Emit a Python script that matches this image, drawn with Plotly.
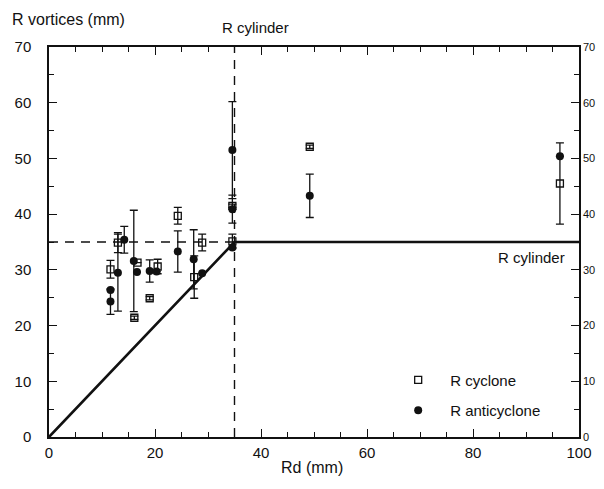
import plotly.graph_objects as go

# ---- data ----
R_CYL = 35.0
X_MAX = 100.0
Y_MAX = 70.0

cyclone_x = [11.6, 13.0, 16.1, 16.7, 19.0, 20.5, 24.3, 27.4, 28.9, 34.6, 34.6, 49.2, 96.4]
cyclone_y = [30.1, 34.9, 21.4, 31.3, 24.9, 30.6, 39.7, 28.7, 34.9, 35.1, 41.5, 52.1, 45.5]
cyclone_err = [1.6, 1.8, 0.3, 0.0, 0.3, 1.3, 1.5, 3.8, 1.5, 1.3, 0.3, 0.3, 7.3]

anti_x = [11.6, 11.6, 13.0, 14.2, 16.0, 16.6, 19.0, 20.3, 24.3, 27.3, 28.9, 34.6, 34.6, 34.6, 49.2, 96.4]
anti_y = [26.4, 24.3, 29.5, 35.4, 31.6, 29.6, 29.8, 29.7, 33.3, 31.9, 29.4, 51.5, 40.9, 34.0, 43.3, 50.4]
anti_err = [0.0, 2.3, 6.9, 2.4, 9.1, 0.0, 2.0, 0.0, 3.7, 5.3, 0.0, 8.7, 2.5, 0.0, 3.9, 0.0]

# R cylinder model curve: R = Rd up to R_cyl, then constant
model_x = [0.0, R_CYL, X_MAX]
model_y = [0.0, R_CYL, R_CYL]

FONT = "Liberation Sans, Arial, Helvetica, sans-serif"
INK = "#111111"

fig = go.Figure()

# dashed guide lines at R cylinder
fig.add_trace(go.Scatter(x=[0.0, R_CYL], y=[R_CYL, R_CYL], mode="lines",
                         line=dict(color=INK, width=1.4, dash="9px,7px"),
                         showlegend=False, hoverinfo="skip"))
fig.add_trace(go.Scatter(x=[R_CYL, R_CYL], y=[0.0, Y_MAX], mode="lines",
                         line=dict(color=INK, width=1.4, dash="9px,7px"),
                         showlegend=False, hoverinfo="skip"))
# model line
fig.add_trace(go.Scatter(x=model_x, y=model_y, mode="lines",
                         line=dict(color=INK, width=2.6),
                         showlegend=False, hoverinfo="skip"))

fig.add_trace(go.Scatter(
    x=cyclone_x, y=cyclone_y, mode="markers", name="R cyclone", legendgroup="a",
    marker=dict(symbol="square-open", size=7, color=INK, line=dict(width=1.3, color=INK)),
    error_y=dict(type="data", array=cyclone_err, color=INK, thickness=1.3, width=4),
))
fig.add_trace(go.Scatter(
    x=anti_x, y=anti_y, mode="markers", name="R anticyclone", legendgroup="b",
    marker=dict(symbol="circle", size=8, color=INK),
    error_y=dict(type="data", array=anti_err, color=INK, thickness=1.3, width=4),
))
# right-hand axis carrier (no points)
fig.add_trace(go.Scatter(x=[], y=[], yaxis="y2", showlegend=False, hoverinfo="skip"))

# page body has an 8px margin: figure is 596x481 placed at (8, 8)
W, H = 596, 481
L, R, T, B = 40.5, 25, 39, 51.5
PW, PH = W - L - R, H - T - B
X0, Y0 = 8 + L, 8 + T  # plot area origin in page pixels

fig.update_layout(
    width=W, height=H,
    margin=dict(l=L, r=R, t=T, b=B, autoexpand=False),
    paper_bgcolor="white", plot_bgcolor="white",
    font=dict(family=FONT, color=INK, size=15),
    legend=dict(x=(386 - X0) / PW, y=1 - (364 - Y0) / PH,
                xanchor="left", yanchor="top",
                traceorder="grouped", tracegroupgap=8, itemwidth=54,
                font=dict(size=15, family=FONT, color=INK),
                bgcolor="rgba(0,0,0,0)"),
    xaxis=dict(range=[0, X_MAX], showgrid=False, zeroline=False, automargin=False,
               showline=True, linecolor=INK, linewidth=1.5, mirror="ticks",
               ticks="inside", ticklen=8, tickwidth=1.3, tickcolor=INK, dtick=20,
               minor=dict(dtick=5, ticks="inside", ticklen=5, tickwidth=1.2, tickcolor=INK),
               tickfont=dict(size=15), ticklabelstandoff=1),
    yaxis=dict(range=[0, Y_MAX], showgrid=False, zeroline=False, automargin=False,
               showline=True, linecolor=INK, linewidth=1.5,
               ticks="inside", ticklen=8, tickwidth=1.3, tickcolor=INK, dtick=10,
               minor=dict(dtick=5, ticks="inside", ticklen=5, tickwidth=1.2, tickcolor=INK),
               tickfont=dict(size=15), ticklabelstandoff=13),
    yaxis2=dict(range=[0, Y_MAX], overlaying="y", side="right", showgrid=False, zeroline=False,
                automargin=False,
                showline=True, linecolor=INK, linewidth=1.5,
                ticks="inside", ticklen=8, tickwidth=1.3, tickcolor=INK, dtick=10,
                minor=dict(dtick=5, ticks="inside", ticklen=5, tickwidth=1.2, tickcolor=INK),
                tickfont=dict(size=11), ticklabelstandoff=0),
    annotations=[
        dict(text="R vortices (mm)", xref="paper", yref="paper", x=-0.073, y=1.07,
             xanchor="left", yanchor="middle", showarrow=False, font=dict(size=16)),
        dict(text="R cylinder", xref="x", yref="paper", x=R_CYL + 3.9, y=1.051,
             xanchor="center", yanchor="middle", showarrow=False, font=dict(size=15)),
        dict(text="R cylinder", xref="x", yref="y", x=97.8, y=32.2,
             xanchor="right", yanchor="middle", showarrow=False, font=dict(size=15)),
        dict(text="Rd (mm)", xref="paper", yref="paper", x=0.497, y=-0.078,
             xanchor="center", yanchor="middle", showarrow=False, font=dict(size=16)),
    ],
)

fig.write_html("out.html")
